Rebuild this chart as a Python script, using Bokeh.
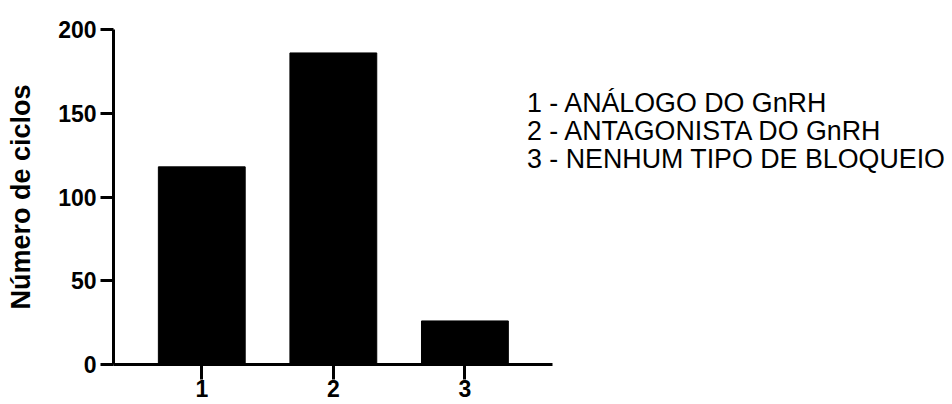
from bokeh.plotting import figure
from bokeh.models import Range1d, FixedTicker, Label, ColumnDataSource
from bokeh.embed import file_html
from bokeh.resources import INLINE

# ---- data ----
categories = [1, 2, 3]
category_labels = ["1", "2", "3"]
cycles = [118, 186, 26]
y_ticks = [0, 50, 100, 150, 200]
legend_lines = ["1 - ANÁLOGO DO GnRH",
                "2 - ANTAGONISTA DO GnRH",
                "3 - NENHUM TIPO DE BLOQUEIO"]
y_title = "Número de ciclos"

FONT = "Liberation Sans"

src = ColumnDataSource(dict(x=categories, top=cycles))

# the frame extends to the right edge so the legend text is not clipped;
# the x axis line itself is limited with bounds
x_start, x_axis_end, x_view_end = 0.329, 3.665, 6.706

p = figure(width=952, height=404, output_backend="svg", toolbar_location=None,
           x_range=Range1d(x_start, x_view_end), y_range=Range1d(0, 200),
           min_border_left=113, min_border_right=0,
           min_border_top=29, min_border_bottom=40)
p.background_fill_color = "white"
p.border_fill_color = "white"
p.outline_line_color = None
p.grid.visible = False

p.vbar(x="x", top="top", width=0.66, source=src,
       fill_color="black", line_color="black")

for ax in (p.xaxis[0], p.yaxis[0]):
    ax.axis_line_width = 3
    ax.axis_line_color = "black"
    ax.major_tick_line_width = 3
    ax.major_tick_line_color = "black"
    ax.major_tick_in = 0
    ax.minor_tick_line_color = None
    ax.major_label_text_font = FONT
    ax.major_label_text_font_style = "bold"
    ax.major_label_text_font_size = "23px"
    ax.major_label_text_color = "black"

p.yaxis.ticker = FixedTicker(ticks=y_ticks)
p.yaxis.major_tick_out = 13
p.yaxis.major_label_standoff = 4
p.yaxis.axis_label = y_title
p.yaxis.axis_label_text_font = FONT
p.yaxis.axis_label_text_font_style = "bold"
p.yaxis.axis_label_text_font_size = "27px"
p.yaxis.axis_label_text_color = "black"
p.yaxis.axis_label_standoff = 19

p.xaxis.ticker = FixedTicker(ticks=categories)
p.xaxis.major_label_overrides = {c: l for c, l in zip(categories, category_labels)}
p.xaxis.bounds = (x_start, x_axis_end)
p.xaxis.major_tick_out = 15
p.xaxis.major_label_standoff = 0

legend_x = 3.472
legend_y0 = 156.4
legend_step = 16.8
for i, line in enumerate(legend_lines):
    p.add_layout(Label(x=legend_x, y=legend_y0 - i * legend_step, text=line,
                       text_font=FONT, text_font_size="26.8px",
                       text_color="black", text_baseline="alphabetic",
                       text_align="left"))

open("out.html", "w").write(file_html(p, INLINE))
